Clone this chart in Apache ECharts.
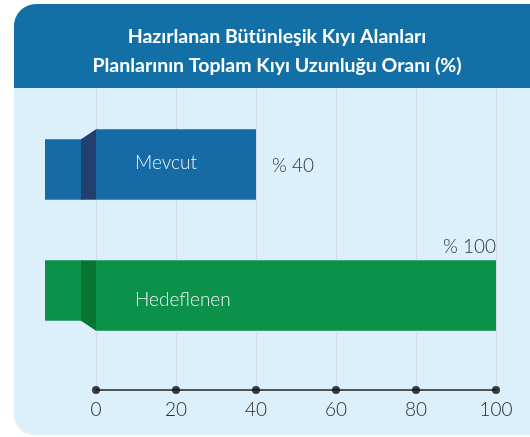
<!DOCTYPE html>
<html>
<head>
<meta charset="utf-8">
<script src="https://cdn.jsdelivr.net/npm/echarts@6/dist/echarts.min.js"></script>
<style>
  html, body { margin: 0; padding: 0; background: #fff; }
  #chart { width: 530px; height: 437px; }
</style>
</head>
<body>
<div id="chart"></div>
<script>
// veriler
const categories = ['Mevcut', 'Hedeflenen'];
const values = [40, 100];
const valueLabels = ['% 40', '% 100'];
const ticks = [0, 20, 40, 60, 80, 100];

const mainColors = ['#166aa5', '#0b9149'];
const darkColors = ['#233f6e', '#077532'];

const chart = echarts.init(document.getElementById('chart'));

function renderBar(params, api){
  const i = params.dataIndex;
  const val = api.value(0);
  const start = api.coord([0, i]);
  const end = api.coord([val, i]);
  const h = api.size([0, 1])[1] * 0.54;
  const top = start[1] - h / 2;
  const bottom = start[1] + h / 2;
  const stubH = h - 10;
  // ilk çubuk üstten, ikincisi alttan katlanıyor
  const stubTop = i === 0 ? bottom - stubH : top;
  const stubBottom = stubTop + stubH;
  const x0 = start[0];
  const right = params.coordSys.x + params.coordSys.width;
  const fitsRight = end[0] + 70 < right;
  return {
    type: 'group',
    children: [
      { type: 'rect', shape: { x: x0 - 51, y: stubTop, width: 37, height: stubH }, style: { fill: mainColors[i] } },
      { type: 'polygon', shape: { points: [[x0 - 15, stubTop], [x0, top], [x0, bottom], [x0 - 15, stubBottom]] },
        style: { fill: darkColors[i] } },
      { type: 'rect', shape: { x: x0, y: top, width: end[0] - x0, height: h }, style: { fill: mainColors[i] } },
      { type: 'text', x: x0 + 39, y: start[1] + (i === 0 ? -2 : 4),
        style: { text: categories[i], fill: '#eef4f8', font: '300 19px Lato', verticalAlign: 'middle' } },
      { type: 'text', x: fitsRight ? end[0] + 16 : end[0], y: fitsRight ? start[1] + 1 : top - 13,
        style: { text: valueLabels[i], fill: '#333', font: '300 19px Lato',
          align: fitsRight ? 'left' : 'right', verticalAlign: 'middle' } }
    ]
  };
}

const option = {
  animation: false,
  graphic: [
    { type: 'rect', z: -10, shape: { x: 14, y: 4, width: 540, height: 431, r: [22, 0, 0, 20] }, style: { fill: '#dcf0fb' } },
    { type: 'rect', z: -9, shape: { x: 14, y: 4, width: 540, height: 84, r: [22, 0, 0, 0] }, style: { fill: '#1270a7' } }
  ],
  title: {
    text: 'Hazırlanan Bütünleşik Kıyı Alanları\nPlanlarının Toplam Kıyı Uzunluğu Oranı (%)',
    left: 272, top: 17, textAlign: 'center',
    textStyle: { color: '#fff', fontSize: 19.5, fontWeight: 'bold', fontFamily: 'Lato', lineHeight: 29 }
  },
  grid: [
    { left: 96, right: 34, top: 88, bottom: 47 },
    { left: 96, right: 34, top: 99, bottom: 76 }
  ],
  xAxis: [
    {
      gridIndex: 0, type: 'value', min: 0, max: 100, interval: 20,
      axisLine: { show: true, lineStyle: { color: '#222', width: 1.5 } },
      axisTick: { show: false },
      axisLabel: { color: '#2a2a2a', fontSize: 19, fontFamily: 'Lato', fontWeight: 300, margin: 10 },
      splitLine: { show: true, lineStyle: { type: 'dotted', color: '#c3c9cf', width: 1 } }
    },
    { gridIndex: 1, type: 'value', min: 0, max: 100, show: false }
  ],
  yAxis: [
    { gridIndex: 0, type: 'value', min: 0, max: 1, show: false },
    { gridIndex: 1, type: 'category', data: categories, inverse: true, show: false }
  ],
  series: [
    {
      type: 'scatter', xAxisIndex: 0, yAxisIndex: 0, clip: false, z: 5,
      symbol: 'circle', symbolSize: 8, itemStyle: { color: '#111' },
      data: ticks.map(t => [t, 0])
    },
    {
      type: 'custom', xAxisIndex: 1, yAxisIndex: 1, clip: false,
      renderItem: renderBar,
      data: values.map((v, i) => [v, i])
    }
  ]
};
chart.setOption(option);
</script>
</body>
</html>
